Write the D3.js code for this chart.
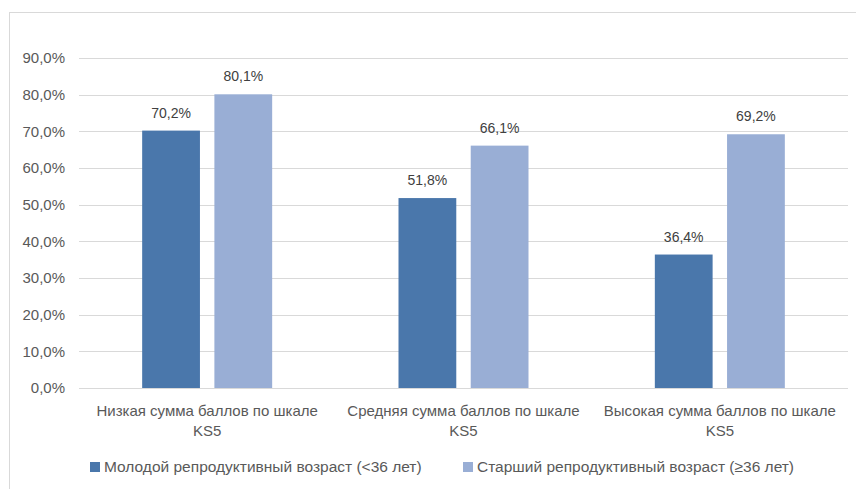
<!DOCTYPE html>
<html><head><meta charset="utf-8">
<script src="https://cdn.jsdelivr.net/npm/d3@7"></script>
<style>body{margin:0;background:#fff;} text{font-family:"Liberation Sans",Arial,sans-serif;}</style>
</head><body>
<svg id="c" width="856" height="489"></svg>
<script>
const categories = [["Низкая сумма баллов по шкале","KS5"],["Средняя сумма баллов по шкале","KS5"],["Высокая сумма баллов по шкале","KS5"]];
const seriesNames = ["Молодой репродуктивный возраст (<36 лет)","Старший репродуктивный возраст (≥36 лет)"];
const young = [70.2, 51.8, 36.4];
const older = [80.1, 66.1, 69.2];
const yTicks = [0,10,20,30,40,50,60,70,80,90];
const colors = ["#4a77ab","#99aed5"];

const svg = d3.select("#c");
const fmt = v => v.toFixed(1).replace(".", ",") + "%";
// frame
svg.append("rect").attr("x",9.5).attr("y",12.5).attr("width",860).attr("height",500)
  .attr("fill","none").attr("stroke","#d9d9d9");

const x0 = d3.scaleBand().domain(d3.range(3)).range([79,848]).paddingInner(0).paddingOuter(0);
const x1 = d3.scaleBand().domain([0,1]).range([x0.bandwidth()/2-65, x0.bandwidth()/2+65]).paddingInner(0.2).paddingOuter(0);
const y = d3.scaleLinear().domain([0,90]).range([388,58]);

const yAxis = d3.axisLeft(y).tickValues(yTicks).tickSize(-(848-79)).tickFormat(d => fmt(d));
const ga = svg.append("g").attr("transform","translate(79,0)").call(yAxis);
ga.select(".domain").remove();
ga.selectAll(".tick line").attr("stroke","#d9d9d9").attr("shape-rendering","crispEdges");
ga.selectAll(".tick text").attr("x",-14).attr("fill","#595959").style("font-size","15px");

const data = [young, older];
data.forEach((s, si) => {
  svg.append("g").selectAll("rect").data(s).join("rect")
    .attr("x",(d,i)=>x0(i)+x1(si)).attr("width",x1.bandwidth())
    .attr("y",d=>y(d)).attr("height",d=>y(0)-y(d)).attr("fill",colors[si]);
  svg.append("g").selectAll("text").data(s).join("text")
    .attr("x",(d,i)=>x0(i)+x1(si)+x1.bandwidth()/2).attr("y",d=>y(d)-13)
    .attr("text-anchor","middle").attr("fill","#404040").style("font-size","14px").text(d=>fmt(d));
});

// category labels
categories.forEach((lines,i) => {
  const t = svg.append("text").attr("text-anchor","middle").attr("fill","#595959").style("font-size","15px");
  lines.forEach((l,k) => t.append("tspan").attr("x",x0(i)+x0.bandwidth()/2).attr("y",416+k*20).text(l));
});

// legend
const legX = [90, 463];
seriesNames.forEach((n,i) => {
  svg.append("rect").attr("x",legX[i]).attr("y",462).attr("width",10).attr("height",10).attr("fill",colors[i]);
  svg.append("text").attr("x",legX[i]+14).attr("y",472).attr("fill","#595959").style("font-size","15.5px").text(n);
});
</script>
</body></html>
